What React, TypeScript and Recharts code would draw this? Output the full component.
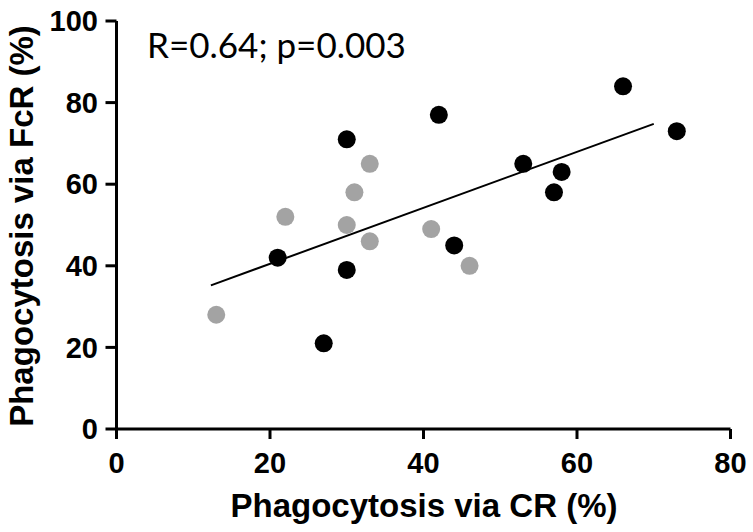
import React from 'react';
import { ScatterChart, Scatter, XAxis, YAxis, ReferenceLine, Customized } from 'recharts';

// Black group (CR %, FcR %)
const blackX = [21, 27, 30, 30, 42, 44, 53, 57, 58, 66, 73];
const blackY = [42, 21, 71, 39, 77, 45, 65, 58, 63, 84, 73];
// Grey group
const greyX = [13, 22, 30, 31, 33, 33, 41, 46];
const greyY = [28, 52, 50, 58, 65, 46, 49, 40];
// Regression line end points
const fitX = [12.3, 70];
const fitY = [35.2, 74.8];

const xTicks = [0, 20, 40, 60, 80];
const yTicks = [0, 20, 40, 60, 80, 100];

const annotation = 'R=0.64; p=0.003';
const xTitle = 'Phagocytosis via CR (%)';
const yTitle = 'Phagocytosis via FcR (%)';

const blackData = blackX.map((x, i) => ({ x, y: blackY[i] }));
const greyData = greyX.map((x, i) => ({ x, y: greyY[i] }));
const fitSegment = fitX.map((x, i) => ({ x, y: fitY[i] }));

const FONT = '"Liberation Sans", Arial, sans-serif';

const dot = (fill: string) => (p: any) => <circle cx={p.cx} cy={p.cy} r={9} fill={fill} />;

const tickStyle = { fontSize: 29, fontWeight: 'bold', fill: '#000', fontFamily: FONT };

export default function App() {
  return (
    <div style={{ position: 'absolute', left: 0, top: 0, background: '#fff' }}>
      <ScatterChart
        width={753}
        height={532}
        margin={{ top: 21, right: 22.5, bottom: 0, left: 0 }}
      >
        <XAxis
          type="number"
          dataKey="x"
          domain={[0, 80]}
          ticks={xTicks}
          interval={0}
          height={103}
          tickSize={10}
          tickMargin={13}
          axisLine={{ stroke: '#000', strokeWidth: 3 }}
          tickLine={{ stroke: '#000', strokeWidth: 3 }}
          tick={tickStyle}
          label={{
            content: () => (
              <text
                x={424}
                y={517}
                textAnchor="middle"
                fontSize={33}
                fontWeight="bold"
                fontFamily={FONT}
                fill="#000"
              >
                {xTitle}
              </text>
            ),
          }}
        />
        <YAxis
          type="number"
          dataKey="y"
          domain={[0, 100]}
          ticks={yTicks}
          interval={0}
          width={116.5}
          tickSize={11}
          tickMargin={7.5}
          axisLine={{ stroke: '#000', strokeWidth: 3 }}
          tickLine={{ stroke: '#000', strokeWidth: 3 }}
          tick={tickStyle}
          label={{
            content: () => (
              <text
                x={33}
                y={226}
                textAnchor="middle"
                fontSize={33}
                fontWeight="bold"
                fontFamily={FONT}
                fill="#000"
                transform="rotate(-90, 33, 226)"
              >
                {yTitle}
              </text>
            ),
          }}
        />
        <ReferenceLine
          segment={fitSegment}
          stroke="#000"
          strokeWidth={2}
          ifOverflow="visible"
        />
        <Scatter data={greyData} fill="#a3a3a3" shape={dot('#a3a3a3')} isAnimationActive={false} />
        <Scatter data={blackData} fill="#000" shape={dot('#000')} isAnimationActive={false} />
        <Customized
          component={() => (
            <text x={147} y={58} fontSize={35} fontFamily="Lato, sans-serif" fill="#000">
              {annotation}
            </text>
          )}
        />
      </ScatterChart>
    </div>
  );
}
